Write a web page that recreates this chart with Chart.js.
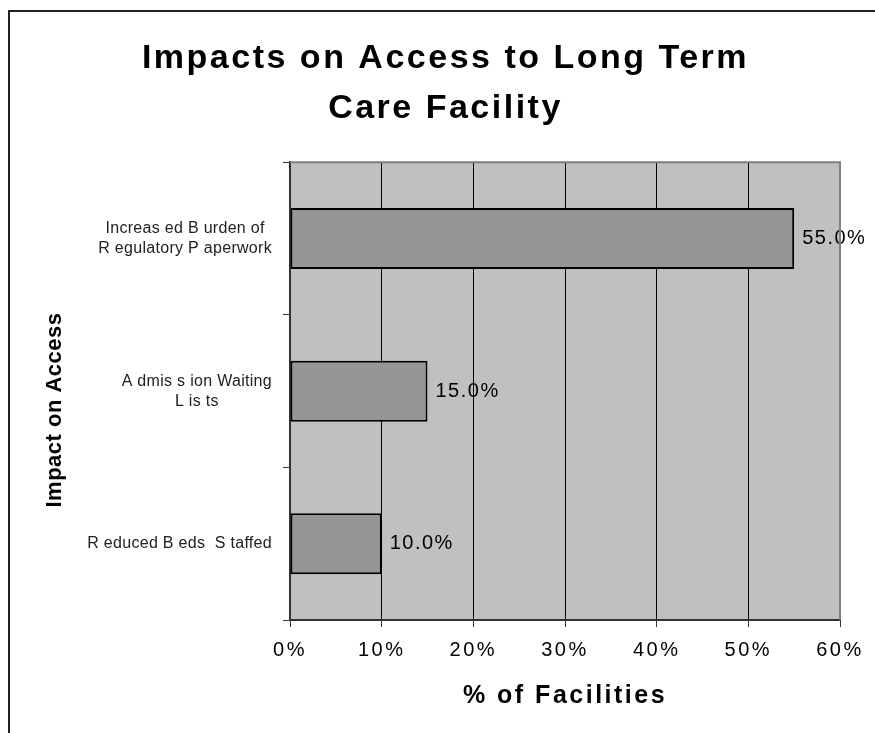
<!DOCTYPE html>
<html>
<head>
<meta charset="utf-8">
<style>
  html, body { margin: 0; padding: 0; background: #fff; }
  canvas { display: block; }
</style>
</head>
<body>
<canvas id="accessChart" width="875" height="733"></canvas>
<script src="https://cdn.jsdelivr.net/npm/chart.js"></script>
<script>
  const titleLines = ['Impacts on Access to Long Term', 'Care Facility'];
  const categories = [
    ['Increas ed B urden of', 'R egulatory P aperwork'],
    ['A dmis s ion Waiting', 'L is ts'],
    ['R educed B eds  S taffed']
  ];
  const facilityShare = [55.0, 15.0, 10.0];
  const axisMax = 60;
  const axisStep = 10;
  const xAxisTitle = '% of Facilities';
  const yAxisTitle = 'Impact on Access';

  const FONT = "'Liberation Sans', Arial, sans-serif";

  // white page, frame lines, grey plot background, spaced text
  const framePlugin = {
    id: 'frame',
    beforeDraw(chart) {
      const { ctx, chartArea: a } = chart;
      ctx.save();
      ctx.fillStyle = '#fff';
      ctx.fillRect(0, 0, chart.width, chart.height);
      ctx.strokeStyle = '#222';
      ctx.lineWidth = 2;
      ctx.beginPath();
      ctx.moveTo(9, chart.height);
      ctx.lineTo(9, 11);
      ctx.lineTo(chart.width, 11);
      ctx.stroke();
      ctx.fillStyle = '#c0c0c0';
      ctx.fillRect(a.left, a.top, a.right - a.left, a.bottom - a.top);
      ctx.restore();
      ctx.letterSpacing = '2.5px';
    },
    afterDatasetsDraw(chart) {
      const { ctx, chartArea: a } = chart;
      const meta = chart.getDatasetMeta(0);
      ctx.save();
      // value labels next to the bars
      ctx.letterSpacing = '1.5px';
      ctx.font = '20px ' + FONT;
      ctx.fillStyle = '#000';
      ctx.textAlign = 'left';
      ctx.textBaseline = 'middle';
      meta.data.forEach((bar, i) => {
        ctx.fillText(facilityShare[i].toFixed(1) + '%', bar.x + 8, bar.y);
      });
      // grey top and right edge of the plot
      ctx.strokeStyle = '#808080';
      ctx.lineWidth = 2;
      ctx.beginPath();
      ctx.moveTo(a.left, a.top);
      ctx.lineTo(a.right, a.top);
      ctx.lineTo(a.right, a.bottom);
      ctx.stroke();
      ctx.restore();
    },
    afterDraw(chart) {
      const { ctx } = chart;
      const yScale = chart.scales.y;
      ctx.save();
      // category labels, each block right aligned with centred lines
      ctx.letterSpacing = '0.3px';
      ctx.font = '16px ' + FONT;
      ctx.fillStyle = '#222';
      ctx.textAlign = 'center';
      ctx.textBaseline = 'middle';
      categories.forEach((lines, i) => {
        const cy = yScale.getPixelForValue(i);
        const w = Math.max(...lines.map(l => ctx.measureText(l).width));
        const cx = 272 - w / 2;
        lines.forEach((line, k) => {
          ctx.fillText(line, cx, cy + (k - (lines.length - 1) / 2) * 20);
        });
      });
      // vertical axis title
      ctx.letterSpacing = '0.5px';
      ctx.font = 'bold 22px ' + FONT;
      ctx.fillStyle = '#000';
      ctx.translate(55, 410);
      ctx.rotate(-Math.PI / 2);
      ctx.fillText(yAxisTitle, 0, 0);
      ctx.restore();
    }
  };

  const ctx = document.getElementById('accessChart').getContext('2d');
  const accessChart = new Chart(ctx, {
    type: 'bar',
    data: {
      labels: categories,
      datasets: [{
        data: facilityShare,
        backgroundColor: '#969696',
        borderColor: '#000',
        borderWidth: 2,
        borderSkipped: false,
        categoryPercentage: 1,
        barPercentage: 0.4
      }]
    },
    options: {
      indexAxis: 'y',
      responsive: false,
      animation: false,
      layout: { padding: { left: 16, right: 0, top: 0, bottom: 0 } },
      plugins: {
        legend: { display: false },
        tooltip: { enabled: false },
        title: {
          display: true,
          text: titleLines,
          color: '#000',
          font: { family: FONT, size: 34, weight: 'bold', lineHeight: 1.46 },
          padding: { top: 34, bottom: 29 }
        }
      },
      scales: {
        x: {
          type: 'linear',
          min: 0,
          max: axisMax,
          afterFit(scale) {
            scale.height = 113;
            scale.paddingRight = 35;
          },
          ticks: {
            stepSize: axisStep,
            padding: 11,
            color: '#000',
            font: { family: FONT, size: 20 },
            callback: v => v + '%'
          },
          grid: {
            color: '#000',
            lineWidth: 1,
            tickLength: 7,
            tickColor: '#333'
          },
          border: { color: '#333', width: 2 },
          title: {
            display: true,
            text: xAxisTitle,
            color: '#000',
            font: { family: FONT, size: 25, weight: 'bold', lineHeight: 1.2 },
            padding: { top: 0, bottom: 22 }
          }
        },
        y: {
          type: 'category',
          afterFit(scale) {
            scale.width = 274;
          },
          ticks: { display: false },
          grid: {
            offset: true,
            drawOnChartArea: false,
            tickLength: 7,
            tickColor: '#333'
          },
          border: { color: '#333', width: 2 }
        }
      }
    },
    plugins: [framePlugin]
  });
</script>
</body>
</html>
